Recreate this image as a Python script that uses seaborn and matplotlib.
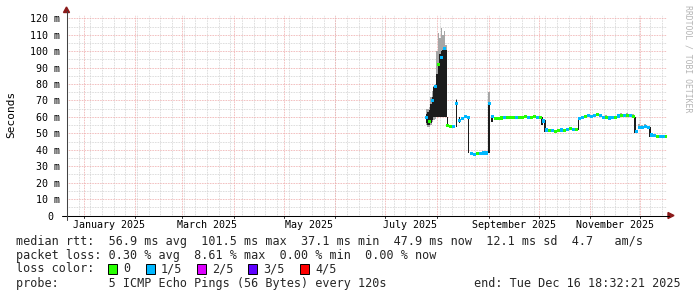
import numpy as np
import pandas as pd
import matplotlib
matplotlib.use("Agg")
import matplotlib.pyplot as plt
import seaborn as sns
from matplotlib.lines import Line2D
from matplotlib.patches import Polygon, Rectangle

# ---------------- data (days since 2025-01-01) ----------------
days = [205.7, 207.5, 209.3, 211.1, 212.9, 214.7, 216.5, 218.3, 220.1, 221.9,
        223.7, 225.5, 227.3, 229.1, 230.9, 232.7, 234.5, 236.3, 238.1, 239.9,
        241.6, 243.4, 245.2, 247.0, 248.8, 250.6, 252.4, 254.2, 256.0, 257.8,
        259.6, 261.4, 263.2, 265.0, 266.8, 268.6, 270.4, 272.2, 274.0, 275.8,
        277.6, 279.4, 281.2, 283.0, 284.8, 286.6, 288.4, 290.2, 292.0, 293.8,
        295.6, 297.4, 299.2, 301.0, 302.8, 304.6, 306.4, 308.2, 310.0, 311.8,
        313.6, 315.4, 317.2, 319.0, 320.8, 322.6, 324.4, 326.2, 328.0, 329.8,
        331.6, 333.4, 335.2, 337.0, 338.8, 340.6, 342.4, 344.2, 346.0, 347.8,
        349.6]
median_ms = [59.5, 57.0, 70.0, 78.5, 92.0, 96.0, 101.5, 55.0, 54.0, 54.0,
             68.0, 58.0, 59.0, 60.0, 59.5, 37.5, 37.1, 37.5, 37.8, 38.0,
             38.0, 68.0, 60.0, 59.0, 59.2, 59.3, 59.5, 59.5, 59.8, 59.6,
             59.5, 59.7, 59.8, 60.0, 59.5, 59.8, 60.0, 59.7, 59.8, 57.5,
             52.0, 51.5, 51.5, 51.0, 51.5, 52.0, 51.5, 52.5, 53.0, 52.5,
             52.5, 59.0, 59.8, 60.3, 60.8, 60.0, 61.0, 61.3, 61.0, 59.8,
             59.5, 59.3, 59.5, 59.8, 60.5, 60.8, 61.0, 60.8, 61.0, 60.0,
             51.0, 53.5, 53.5, 54.0, 53.5, 49.0, 48.5, 48.0, 48.2, 48.0,
             47.9]
loss = [1, 0, 1, 1, 0, 1, 1, 0, 0, 1,
        1, 1, 1, 1, 1, 1, 1, 0, 1, 1,
        1, 1, 1, 0, 0, 0, 1, 0, 0, 0,
        1, 0, 0, 0, 1, 0, 0, 1, 0, 1,
        1, 0, 1, 0, 0, 1, 0, 1, 0, 1,
        0, 1, 1, 0, 1, 1, 1, 0, 1, 1,
        0, 1, 1, 0, 1, 0, 1, 0, 1, 0,
        1, 1, 1, 1, 1, 1, 1, 0, 1, 1,
        0]

# dark smoke (core of ping spread)
smoke_days = [205.7, 206.6, 207.5, 208.4, 209.3, 210.2, 211.1, 212.0, 212.9,
              213.8, 214.7, 215.6, 216.5, 217.4, 218.3, 223.7, 225.5, 230.9,
              243.4, 245.2, 275.2, 277.0, 296.9, 331.0, 340.0]
smoke_lo = [56, 55, 55, 56, 58, 60, 60, 60, 60, 60, 60, 60, 60, 60, 54,
            54, 56, 38, 38, 57, 55, 51, 52, 50, 48]
smoke_hi = [62, 63, 64, 68, 72, 78, 79, 86, 93, 98, 100, 101, 102, 101, 60,
            70, 60, 60, 69, 61, 60, 58, 59, 60, 54]

# light smoke (outer pings)
gray_days = [205.7, 206.6, 207.5, 208.4, 209.3, 210.2, 211.1, 212.0, 212.9,
             213.8, 214.7, 215.6, 216.5, 217.4, 223.7, 243.4, 313.6, 322.6,
             324.4, 326.2, 328.0, 329.8, 333.4, 335.2, 337.0]
gray_lo = [55, 54, 54, 55, 57, 58, 59, 60, 60, 60, 60, 60, 60, 60, 54, 38,
           59, 60, 60, 60, 60, 60, 53, 53, 53]
gray_hi = [65, 65, 66, 72, 76, 79, 80, 100, 111, 108, 114, 110, 112, 104, 71, 75,
           61, 62.5, 62, 62.5, 62, 62, 55.5, 55, 55.5]

month_starts = [0, 31, 59, 90, 120, 151, 181, 212, 243, 273, 304, 334]
month_labels = ["January 2025", "March 2025", "May 2025",
                "July 2025", "September 2025", "November 2025"]
month_label_days = [15, 74, 135, 196, 258, 319]
y_ticks = [0, 10, 20, 30, 40, 50, 60, 70, 80, 90, 100, 110, 120]
y_labels = ["0 ", "10 m", "20 m", "30 m", "40 m", "50 m", "60 m", "70 m",
            "80 m", "90 m", "100 m", "110 m", "120 m"]

loss_names = ["0", "1/5", "2/5", "3/5", "4/5"]
loss_colors = ["#26ff00", "#00b8ff", "#dd00ff", "#5e00ff", "#ff0000"]

# ---------------- figure ----------------
sns.set_theme(style="white")
plt.rcParams["font.family"] = ["DejaVu Sans Mono"]

W, H = 697, 297
fig = plt.figure(figsize=(W / 100, H / 100), dpi=100)
fig.patch.set_facecolor("white")


def fx(px):
    return px / W


def fy(py):
    return 1 - py / H


L, R, T, B = 66.5, 666.5, 15.0, 215.5
ax = fig.add_axes([fx(L), fy(B), fx(R) - fx(L), fy(T) - fy(B)])
ax.set_facecolor("white")
ax.set_xlim(-10.23, 349.77)
ax.set_ylim(0, 122.0)
for s in ax.spines.values():
    s.set_visible(False)

minor_c = "#d2d2d2"
major_c = "#eeaaaa"
dash = (0.72, 0.9)
for d in np.arange(-10, 350, 7):
    ax.axvline(d, color=minor_c, lw=0.72, dashes=dash, zorder=0)
for v in range(5, 125, 10):
    ax.axhline(v, color=minor_c, lw=0.72, dashes=dash, zorder=0)
for d in month_starts:
    ax.axvline(d, color=major_c, lw=0.72, dashes=dash, zorder=0.5)
for v in range(10, 121, 10):
    ax.axhline(v, color=major_c, lw=0.72, dashes=dash, zorder=0.5)

# smoke
ax.bar(gray_days, np.subtract(gray_hi, gray_lo), bottom=gray_lo, width=1.0,
       color="#a6a6a6", linewidth=0, zorder=2)
ax.bar(smoke_days, np.subtract(smoke_hi, smoke_lo), bottom=smoke_lo, width=1.0,
       color="#1c1c1c", linewidth=0, zorder=3)

# median coloured by loss
df = pd.DataFrame({"day": days, "median": median_ms,
                   "loss": [loss_names[i] for i in loss]})
sns.scatterplot(data=df, x="day", y="median", hue="loss",
                palette=dict(zip(loss_names, loss_colors)), marker="s",
                s=5.2, linewidth=0, legend=False, ax=ax, zorder=5)
ax.set_xlabel("")
ax.set_ylabel("")

ax.set_xticks(month_label_days, month_labels)
ax.set_yticks(y_ticks, y_labels)
ax.tick_params(axis="x", length=0, pad=3.5, labelsize=7.2, colors="black")
ax.tick_params(axis="y", length=0, pad=4.5, labelsize=7.2, colors="black")

# small ticks under x axis at month starts
for d in month_starts:
    ax.plot([d, d], [0, -0.012], transform=ax.get_xaxis_transform(),
            color="#333333", lw=0.72, clip_on=False, zorder=6)

# axes with arrows
fig.add_artist(Line2D([fx(62), fx(669)], [fy(215.5), fy(215.5)], color="black", lw=0.75))
fig.add_artist(Line2D([fx(66.5), fx(66.5)], [fy(219.5), fy(11)], color="#444444", lw=0.75))
fig.add_artist(Polygon([(fx(668), fy(212.5)), (fx(674), fy(215.5)), (fx(668), fy(218.5))],
                       closed=True, color="#8b1a1a", transform=fig.transFigure))
fig.add_artist(Polygon([(fx(63.5), fy(12.5)), (fx(66.5), fy(7)), (fx(69.5), fy(12.5))],
                       closed=True, color="#8b1a1a", transform=fig.transFigure))

# y label and watermark
fig.text(fx(11), fy(114), "Seconds", rotation=90, ha="center", va="center",
         fontsize=8, color="black")
fig.text(fx(688), fy(59), "RRDTOOL / TOBI OETIKER", rotation=270, ha="center",
         va="center", fontsize=5.9, color="#b4b4b4")

# legend / comments
fs = 8.5
fig.text(fx(16), fy(241), "median rtt:  56.9 ms avg  101.5 ms max  37.1 ms min  47.9 ms now  12.1 ms sd  4.7   am/s",
         ha="left", va="center", fontsize=fs)
fig.text(fx(16), fy(255), "packet loss: 0.30 % avg  8.61 % max  0.00 % min  0.00 % now",
         ha="left", va="center", fontsize=fs)
fig.text(fx(16), fy(269), "loss color:", ha="left", va="center", fontsize=fs)
box_x = [108, 146, 197, 248, 300]
for bx, name, col in zip(box_x, loss_names, loss_colors):
    fig.add_artist(Rectangle((fx(bx), fy(274)), fx(9), 10 / H, facecolor=col,
                             edgecolor="black", lw=0.7, transform=fig.transFigure))
    fig.text(fx(bx + 15), fy(269), name, ha="left", va="center", fontsize=fs)
fig.text(fx(16), fy(283.5), "probe:       5 ICMP Echo Pings (56 Bytes) every 120s",
         ha="left", va="center", fontsize=fs)
fig.text(fx(681), fy(283.5), "end: Tue Dec 16 18:32:21 2025", ha="right",
         va="center", fontsize=fs)

fig.savefig("out.png", dpi=100, facecolor="white")
